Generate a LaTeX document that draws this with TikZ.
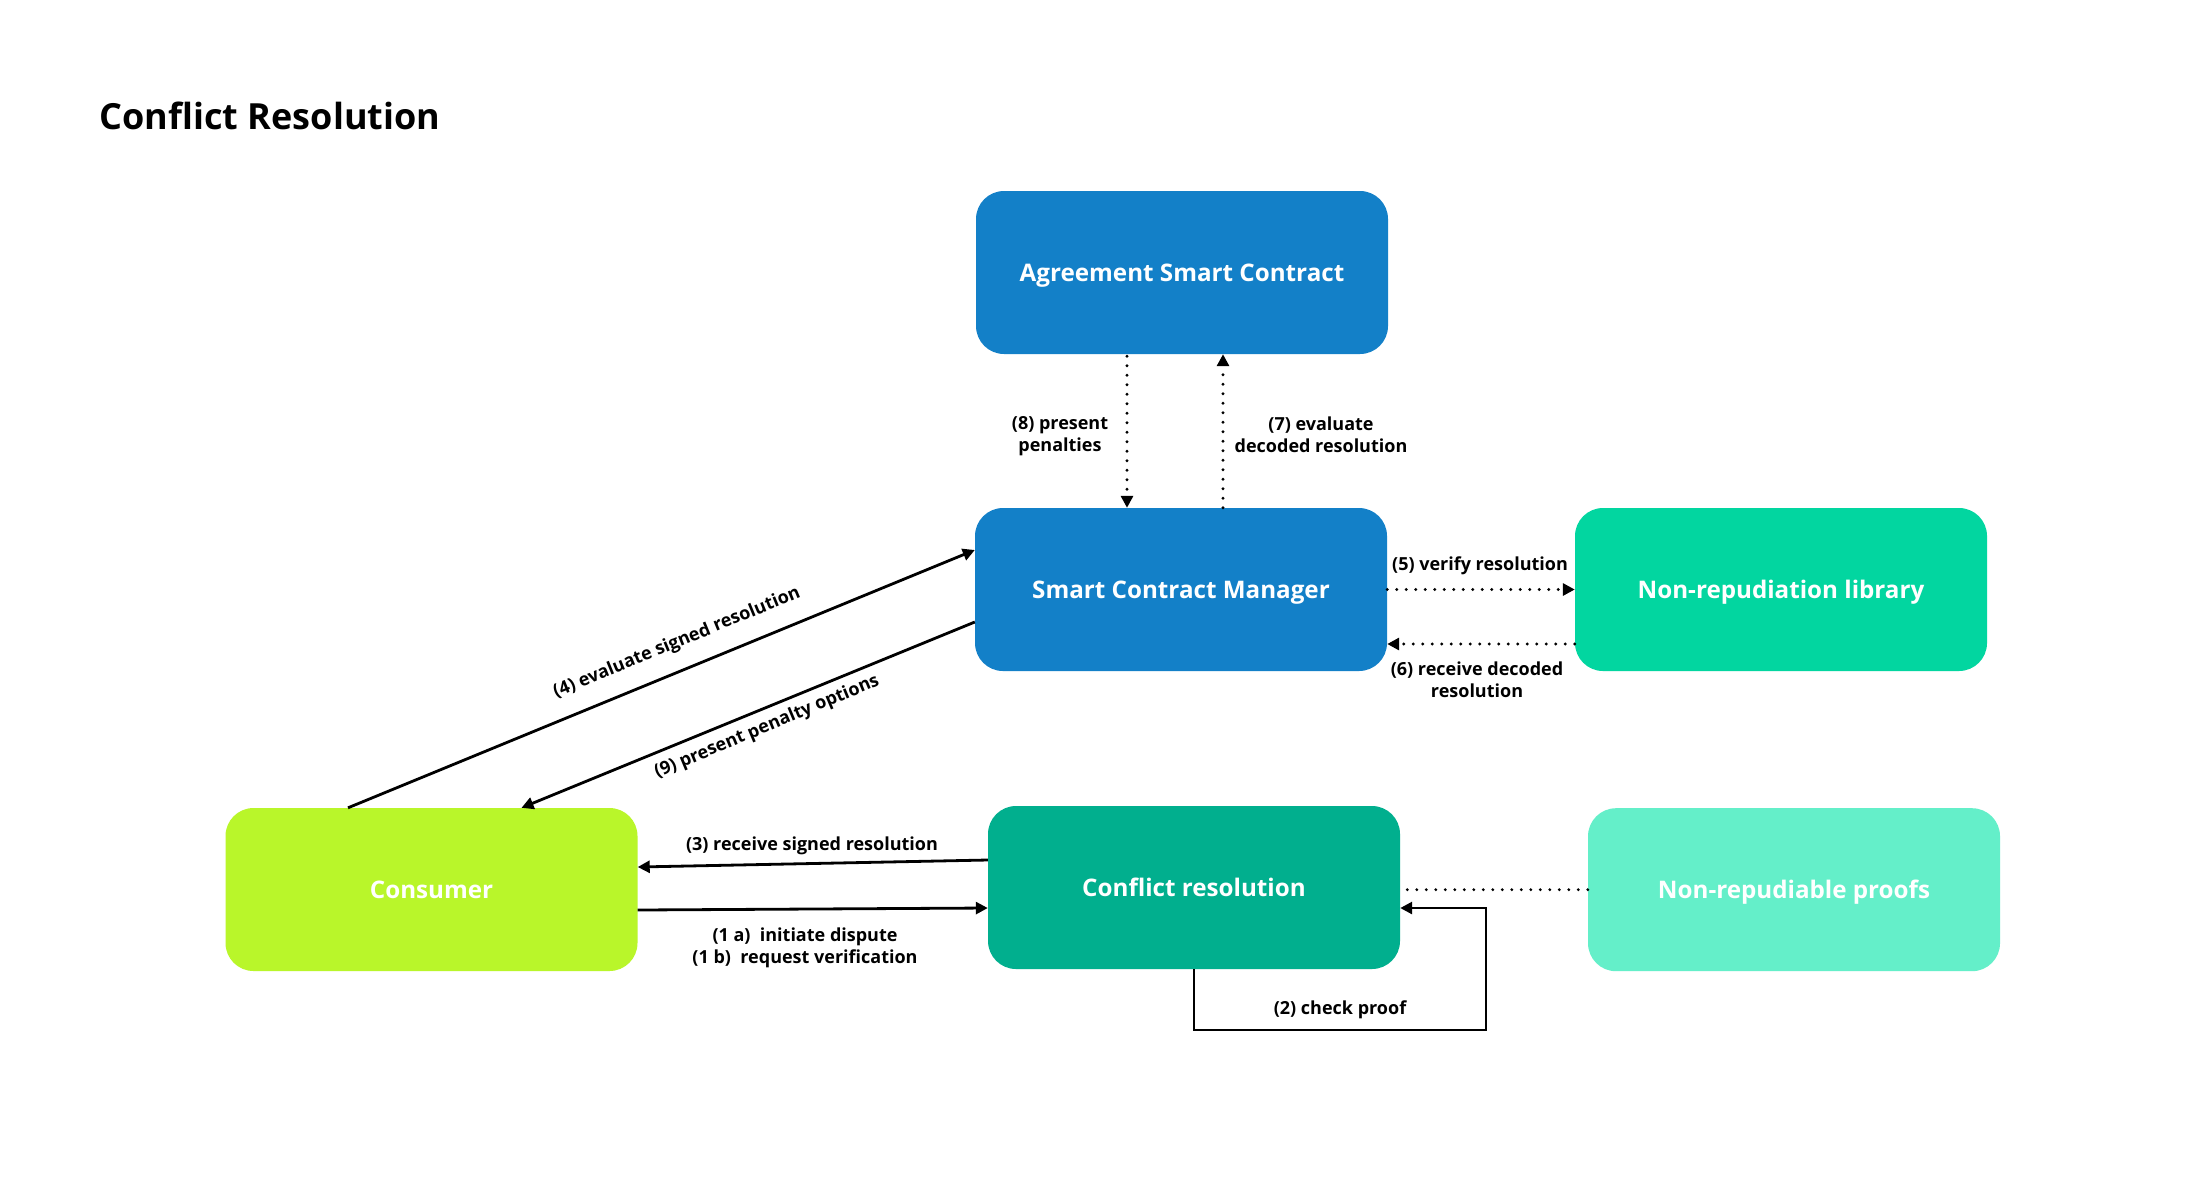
\documentclass[tikz,border=0pt]{standalone}
\usepackage{fontspec}
\setmainfont{Open Sans}
\usetikzlibrary{arrows.meta,calc}
\definecolor{blueA}{HTML}{1380C8}
\definecolor{greenLib}{HTML}{02D6A0}
\definecolor{limeC}{HTML}{B9F62A}
\definecolor{tealCR}{HTML}{01AF8E}
\definecolor{mintP}{HTML}{64EFC9}
\begin{document}
\begin{tikzpicture}[x=1pt,y=-1pt,
  box/.style={rectangle, rounded corners=28pt, minimum width=412pt, minimum height=163pt, inner sep=0pt,
    text height=17.3pt, text depth=0pt,
    text=white, font=\fontsize{24.2}{29}\selectfont\bfseries},
  lbl/.style={font=\fontsize{18}{22}\selectfont\bfseries, align=center, inner sep=0pt},
  solidarrow/.style={line width=2.8pt, -{Triangle[length=12pt,width=12pt]}},
  dotline/.style={line width=3.2pt, dash pattern=on 0pt off 9.5pt, line cap=round},
  dotarrow/.style={dotline, -{Triangle[length=12pt,width=12pt]}}
]
\useasboundingbox[fill=white] (0,0) rectangle (2210,1179);

\node[anchor=base west, font=\fontsize{36}{40}\selectfont\bfseries, inner sep=0pt] (title) at (99.5,129) {Conflict Resolution};

\node[box, fill=blueA] (asc) at (1182,272.5) {Agreement Smart Contract};
\node[box, fill=blueA] (scm) at (1181,589.5) {Smart Contract Manager};
\node[box, fill=greenLib] (nrl) at (1781,589.5) {Non-repudiation library};
\node[box, fill=limeC] (con) at (431.5,889.5) {Consumer};
\node[box, fill=tealCR] (cr) at (1194,887.5) {Conflict resolution};
\node[box, fill=mintP] (nrp) at (1794,889.7) {Non-repudiable proofs};

% (8) and (7)
\draw[dotarrow] ($(asc.south)+(-55,2)$) -- ($(scm.north)+(-54,0)$);
\draw[dotarrow] ($(scm.north)+(42,0)$) -- ($(asc.south)+(41,0)$);
\node[lbl] (l8) at (1060,436) {(8) present\\penalties};
\node[lbl] (l7) at (1321,434.5) {(7) evaluate\\decoded resolution};

% (5) and (6)
\draw[dotarrow] (scm.east) -- (nrl.west);
\draw[dotarrow] ($(nrl.west)+(0,54.5)$) -- ($(scm.east)+(0,54.5)$);
\node[lbl] (l5) at (1480,566) {(5) verify resolution};
\node[lbl] (l6) at (1477,680) {(6) receive decoded\\resolution};

% (4) and (9)
\draw[solidarrow] ($(con.north)+(-83.5,0)$) -- ($(scm.west)+(0,-39.5)$);
\draw[solidarrow] ($(scm.west)+(0,32.5)$) -- ($(con.north)+(90,0)$);
\node[lbl, rotate=22.4] (l4) at (677,643) {(4) evaluate signed resolution};
\node[lbl, rotate=22.7] (l9) at (767,727) {(9) present penalty options};

% (3) and (1)
\draw[solidarrow] ($(cr.west)+(0,-27.5)$) -- ($(con.east)+(0,-22.5)$);
\draw[solidarrow] ($(con.east)+(0,20.5)$) -- ($(cr.west)+(0,20.5)$);
\node[lbl] (l3) at (812,846) {(3) receive signed resolution};
\node[lbl] (l1) at (805,948) {(1 a)\ \ initiate dispute\\(1 b)\ \ request verification};

% (2) loop
\coordinate (loopA) at (1194,1030);
\coordinate (loopB) at (1486,1030);
\draw[line width=2.8pt, -{Triangle[length=12pt,width=12pt]}] (cr.south) -- (loopA) -- (loopB) -- ($(loopB)+(0,-122)$) -- ($(cr.east)+(0,20.5)$);
\node[lbl] (l2) at (1340,1010) {(2) check proof};

% proofs
\draw[dotline] (nrp.west) -- (cr.east |- nrp.west);
\end{tikzpicture}
\end{document}
